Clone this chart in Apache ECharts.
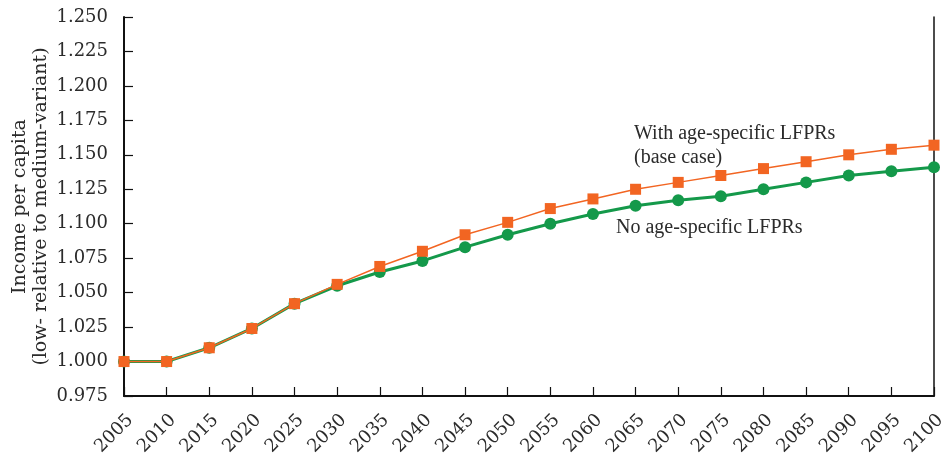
<!DOCTYPE html>
<html>
<head>
<meta charset="utf-8">
<script src="https://cdn.jsdelivr.net/npm/echarts@6/dist/echarts.min.js"></script>
<style>
  html, body { margin: 0; padding: 0; background: #fff; }
  #chart { width: 946px; height: 462px; }
</style>
</head>
<body>
<div id="chart"></div>
<script>
// Projection years (x axis)
const years = [2005, 2010, 2015, 2020, 2025, 2030, 2035, 2040, 2045, 2050,
               2055, 2060, 2065, 2070, 2075, 2080, 2085, 2090, 2095, 2100];

// Income per capita, low- relative to medium-variant
const withAgeSpecific = [1.000, 1.000, 1.010, 1.024, 1.042, 1.056, 1.069, 1.080, 1.092, 1.101,
                         1.111, 1.118, 1.125, 1.130, 1.135, 1.140, 1.145, 1.150, 1.154, 1.157];
const noAgeSpecific   = [1.000, 1.000, 1.010, 1.024, 1.042, 1.055, 1.065, 1.073, 1.083, 1.092,
                         1.100, 1.107, 1.113, 1.117, 1.120, 1.125, 1.130, 1.135, 1.138, 1.141];

// Series captions drawn beside the curves
const withCaption = 'With age-specific LFPRs\n(base case)';
const noCaption = 'No age-specific LFPRs';

const yMin = 0.975, yMax = 1.250, yStep = 0.025;
const xMin = 2005, xMax = 2100, xStep = 5;

const FONT = 'DejaVu Serif';
const TEXT = '#2b2b2b';
const ORANGE = '#f26522';
const GREEN = '#14994a';

const chart = echarts.init(document.getElementById('chart'), null, { renderer: 'canvas' });

chart.setOption({
  animation: false,
  backgroundColor: '#fff',
  grid: { left: 124, right: 12, top: 17, bottom: 66, containLabel: false, outerBoundsMode: 'none' },
  xAxis: {
    type: 'value',
    min: xMin, max: xMax, interval: xStep,
    axisLine: { show: true, onZero: false, lineStyle: { color: '#111', width: 2 } },
    axisTick: { show: true, inside: true, length: 9, lineStyle: { color: '#111', width: 1.2 } },
    axisLabel: {
      rotate: 45, margin: 15,
      verticalAlign: 'top',
      fontFamily: FONT, fontSize: 18, color: TEXT,
      formatter: v => String(v)
    },
    splitLine: { show: false }
  },
  yAxis: [{
    type: 'value',
    min: yMin, max: yMax, interval: yStep,
    name: 'Income per capita\n(low- relative to medium-variant)',
    nameLocation: 'middle',
    nameGap: 72,
    nameMoveOverlap: false,
    nameRotate: 90,
    nameTextStyle: { fontFamily: FONT, fontSize: 19, color: TEXT, lineHeight: 21 },
    axisLine: { show: true, lineStyle: { color: '#111', width: 2 } },
    axisTick: { show: true, inside: true, length: 9, lineStyle: { color: '#111', width: 1.2 } },
    axisLabel: {
      margin: 16,
      fontFamily: FONT, fontSize: 18, color: TEXT,
      formatter: v => v.toFixed(3)
    },
    splitLine: { show: false }
  }, {
    type: 'value',
    position: 'right',
    min: yMin, max: yMax, interval: yStep,
    axisLine: { show: true, lineStyle: { color: '#111', width: 1.5 } },
    axisTick: { show: false },
    axisLabel: { show: false },
    splitLine: { show: false }
  }],
  series: [{
    name: 'No age-specific LFPRs',
    type: 'line',
    yAxisIndex: 0,
    data: years.map((y, i) => [y, noAgeSpecific[i]]),
    symbol: 'circle',
    symbolSize: 12,
    itemStyle: { color: GREEN },
    lineStyle: { color: GREEN, width: 3 },
    z: 2
  }, {
    name: 'With age-specific LFPRs (base case)',
    type: 'line',
    yAxisIndex: 0,
    data: years.map((y, i) => [y, withAgeSpecific[i]]),
    symbol: 'rect',
    symbolSize: 11,
    itemStyle: { color: ORANGE },
    lineStyle: { color: ORANGE, width: 1.5 },
    z: 3
  }],
  graphic: [{
    type: 'text',
    left: 634, top: 122,
    style: {
      text: withCaption,
      font: '20px "Liberation Serif"',
      fill: TEXT,
      lineHeight: 24
    }
  }, {
    type: 'text',
    left: 616, top: 216,
    style: {
      text: noCaption,
      font: '20px "Liberation Serif"',
      fill: TEXT,
      lineHeight: 24
    }
  }]
});
</script>
</body>
</html>
